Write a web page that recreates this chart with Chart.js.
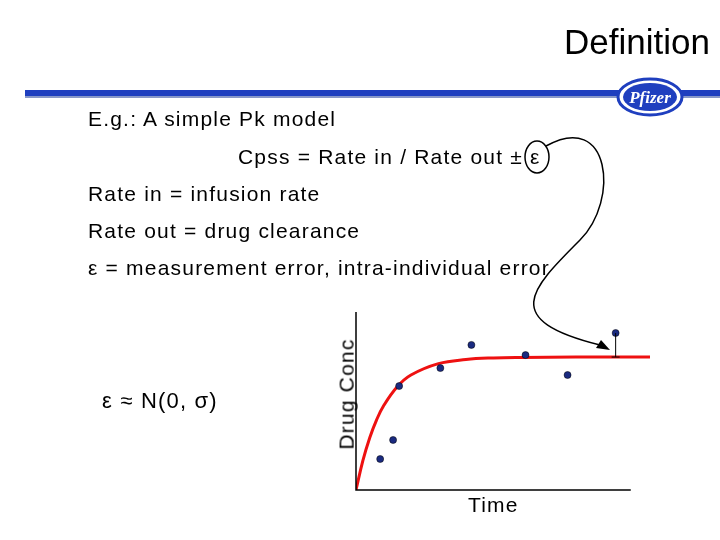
<!DOCTYPE html>
<html><head><meta charset="utf-8">
<script src="https://cdn.jsdelivr.net/npm/chart.js@4"></script>
<style>
body{margin:0;width:720px;height:540px;background:#fff;font-family:"Liberation Sans",Arial,sans-serif;position:relative;overflow:hidden}
.t{position:absolute;font-size:21px;letter-spacing:1.2px;color:#000;white-space:nowrap}
#c{position:absolute;left:0;top:0}
</style></head><body>
<canvas id="c" width="720" height="540"></canvas>
<div class="t" style="right:10px;top:22px;font-size:35px;letter-spacing:0">Definition</div>
<div class="t" style="left:88px;top:107px">E.g.: A simple Pk model</div>
<div class="t" style="left:238px;top:145px">Cpss = Rate in / Rate out ± ε</div>
<div class="t" style="left:88px;top:182px">Rate in = infusion rate</div>
<div class="t" style="left:88px;top:219px">Rate out = drug clearance</div>
<div class="t" style="left:88px;top:256px">ε = measurement error, intra-individual error</div>
<div class="t" style="left:102px;top:388px;font-size:22px">ε ≈ N(0, σ)</div>
<div class="t" style="left:291px;top:382px;transform:rotate(-90deg);transform-origin:center">Drug Conc</div>
<div class="t" style="left:468px;top:493px">Time</div>
<script>
const curveX = [0, 0.25, 0.5, 0.75, 1, 1.5, 2, 3, 4, 5, 6, 8, 10.7];
const curveY = [0, 1.65, 2.94, 3.94, 4.72, 5.80, 6.46, 7.10, 7.33, 7.42, 7.45, 7.47, 7.47];
const obsX = [0.88, 1.35, 1.57, 3.07, 4.2, 6.17, 7.7, 9.45];
const obsY = [1.74, 2.81, 5.84, 6.85, 8.15, 7.58, 6.46, 8.82];

const decor = {
  id: 'decor',
  afterDraw(chart) {
    const c = chart.ctx, x = chart.scales.x, y = chart.scales.y;
    c.save();
    // axes
    c.strokeStyle = '#000'; c.lineWidth = 1.5;
    c.beginPath(); c.moveTo(x.getPixelForValue(0), y.getPixelForValue(10));
    c.lineTo(x.getPixelForValue(0), y.getPixelForValue(0));
    c.lineTo(x.getPixelForValue(10), y.getPixelForValue(0)); c.stroke();
    // error bar on last point
    const ex = x.getPixelForValue(obsX[7]);
    c.lineWidth = 1;
    c.beginPath(); c.moveTo(ex, y.getPixelForValue(obsY[7])); c.lineTo(ex, y.getPixelForValue(7.47));
    c.moveTo(ex - 4, y.getPixelForValue(7.47)); c.lineTo(ex + 4, y.getPixelForValue(7.47)); c.stroke();
    // blue header bar
    c.fillStyle = '#1f3fbf'; c.fillRect(25, 90, 695, 6);
    c.fillStyle = '#8898c8'; c.fillRect(25, 96, 695, 2);
    // logo
    c.fillStyle = '#fff'; c.strokeStyle = '#1f3fbf'; c.lineWidth = 3;
    c.beginPath(); c.ellipse(650, 97, 32, 18, 0, 0, Math.PI * 2); c.fill(); c.stroke();
    c.fillStyle = '#1f3fbf'; c.beginPath(); c.ellipse(650, 97, 27, 14, 0, 0, Math.PI * 2); c.fill();
    c.fillStyle = '#fff'; c.font = 'italic bold 17px "Liberation Serif"'; c.textAlign = 'center';
    c.fillText('Pfizer', 650, 103);
    // ellipse around epsilon
    c.strokeStyle = '#000'; c.lineWidth = 1.5;
    c.beginPath(); c.ellipse(537, 157, 12, 16, 0, 0, Math.PI * 2); c.stroke();
    // curly arrow
    c.beginPath(); c.moveTo(546, 146);
    c.bezierCurveTo(610, 110, 620, 200, 580, 240);
    c.bezierCurveTo(530, 290, 500, 320, 600, 345); c.stroke();
    c.fillStyle = '#000';
    c.beginPath(); c.moveTo(610, 350); c.lineTo(596, 348); c.lineTo(601, 340); c.fill();
    c.restore();
  }
};

new Chart(document.getElementById('c'), {
  type: 'scatter',
  data: {
    datasets: [
      {
        data: obsX.map((v, i) => ({ x: v, y: obsY[i] })),
        backgroundColor: '#1a2a80', borderColor: '#000', borderWidth: 0.5, pointRadius: 3.5
      },
      {
        type: 'line',
        data: curveX.map((v, i) => ({ x: v, y: curveY[i] })),
        borderColor: '#ee1111', borderWidth: 3, pointRadius: 0, tension: 0.4, fill: false
      }
    ]
  },
  options: {
    responsive: false, animation: false,
    layout: { padding: { left: 356, right: 70, top: 312, bottom: 50 } },
    plugins: { legend: { display: false }, tooltip: { enabled: false } },
    scales: {
      x: { type: 'linear', min: 0, max: 10.7, display: false },
      y: { min: 0, max: 10, display: false }
    }
  },
  plugins: [decor]
});
</script>
</body></html>
